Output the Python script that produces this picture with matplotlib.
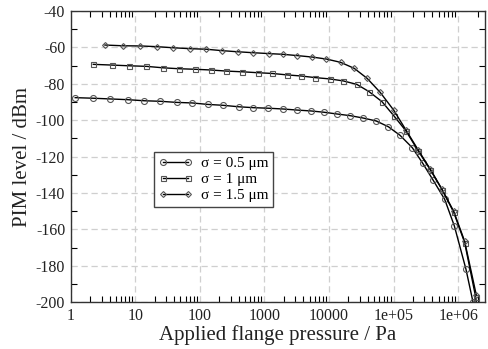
import numpy as np
import matplotlib
matplotlib.use("Agg")
import matplotlib.pyplot as plt
from matplotlib.ticker import FixedLocator, FixedFormatter, NullFormatter

plt.rcParams['font.family'] = ['Liberation Serif', 'DejaVu Serif']
plt.rcParams['axes.unicode_minus'] = False

# log10(pressure / Pa) and PIM level (dBm)
s05_logp = [0.07, 0.34, 0.61, 0.88, 1.14, 1.39, 1.64, 1.88, 2.12, 2.36, 2.60, 2.83, 3.06,
            3.28, 3.50, 3.72, 3.92, 4.13, 4.33, 4.53, 4.73, 4.92, 5.10, 5.29, 5.45, 5.61,
            5.79, 5.94, 6.12, 6.23]
s05_pim = [-87.6, -87.9, -88.3, -88.7, -89.3, -89.6, -90.2, -90.5, -91.3, -91.8, -92.6, -93.1, -93.4,
           -93.8, -94.4, -94.9, -95.6, -96.6, -97.5, -98.8, -100.4, -103.6, -108.3, -115.1, -123.6, -132.8,
           -143.4, -158.0, -181.8, -200.0]

s10_logp = [0.35, 0.64, 0.91, 1.17, 1.43, 1.67, 1.92, 2.17, 2.41, 2.66, 2.90, 3.12,
            3.35, 3.57, 3.79, 4.01, 4.22, 4.43, 4.62, 4.82, 5.00, 5.19, 5.38, 5.57,
            5.75, 5.93, 6.10, 6.27, 6.28]
s10_pim = [-69.3, -69.7, -70.1, -70.4, -71.2, -71.7, -72.0, -72.4, -73.0, -73.4, -73.9, -74.3,
           -75.1, -75.7, -76.6, -77.3, -78.4, -80.3, -84.3, -89.8, -97.4, -105.8, -116.8, -127.3,
           -138.1, -150.5, -167.2, -197.0, -200.0]

s15_logp = [0.53, 0.81, 1.08, 1.34, 1.59, 1.85, 2.10, 2.35, 2.59, 2.82, 3.07,
            3.29, 3.51, 3.74, 3.96, 4.18, 4.39, 4.59, 4.79, 5.00, 5.19, 5.38, 5.57,
            5.75, 5.93, 6.10, 6.28]
s15_pim = [-58.7, -59.1, -59.2, -59.6, -60.2, -60.7, -61.0, -61.8, -62.4, -62.9, -63.4,
           -63.8, -64.5, -65.3, -66.4, -68.2, -71.5, -77.0, -84.6, -94.4, -105.3, -116.3, -127.0,
           -138.0, -150.0, -166.5, -196.0]

series_labels = ['σ = 0.5 μm', 'σ = 1 μm', 'σ = 1.5 μm']
x_ticks = [1, 10, 100, 1000, 10000, 1e5, 1e6]
x_ticklabels = ['1', '10', '100', '1000', '10000', '1e+05', '1e+06']
y_ticks = [-40, -60, -80, -100, -120, -140, -160, -180, -200]
y_ticklabels = ['-40', '-60', '-80', '-100', '-120', '-140', '-160', '-180', '-200']

fig = plt.figure(figsize=(4.88, 3.49), dpi=100)
ax = fig.add_axes([70.7/488, 1 - 302.3/349, (485 - 70.7)/488, (302.3 - 11)/349])

edge = '#555555'
styles = [dict(marker='o', ms=4.3), dict(marker='s', ms=3.6), dict(marker='D', ms=3.0)]
data = [(s05_logp, s05_pim), (s10_logp, s10_pim), (s15_logp, s15_pim)]
for (lp, v), st, lab in zip(data, styles, series_labels):
    ax.plot(10 ** np.array(lp), v, color='black', lw=1.0, mfc='none', mec=edge,
            mew=0.8, label=lab, **st)

ax.set_xscale('log')
ax.set_xlim(1, 2.6e6)
ax.set_ylim(-200, -40)

ax.xaxis.set_major_locator(FixedLocator(x_ticks))
ax.xaxis.set_major_formatter(FixedFormatter(x_ticklabels))
ax.xaxis.set_minor_locator(FixedLocator([m * 10 ** d for d in range(7) for m in range(2, 10)]))
ax.xaxis.set_minor_formatter(NullFormatter())
ax.yaxis.set_major_locator(FixedLocator(y_ticks))
ax.yaxis.set_major_formatter(FixedFormatter(y_ticklabels))
ax.yaxis.set_minor_locator(FixedLocator(list(range(-190, -40, 20))))

ax.tick_params(which='major', length=0, labelsize=11.5, pad=4, colors='#222222')
ax.tick_params(which='minor', direction='in', length=4, width=0.8, top=True, right=True)
ax.tick_params(which='both', top=True, right=True)

ax.grid(True, which='major', color='#cfcfcf', linestyle=(0, (5, 3)), lw=0.9)
ax.set_axisbelow(True)
for s in ax.spines.values():
    s.set_linewidth(1.0)
    s.set_color('#333333')

ax.set_xlabel('Applied flange pressure / Pa', fontsize=15, labelpad=1, color='#222222')
ax.set_ylabel('PIM level / dBm', fontsize=15, labelpad=3, color='#222222')

leg = ax.legend(loc='upper left', bbox_to_anchor=(0.201, 0.517), borderaxespad=0,
                fontsize=11, numpoints=2, handlelength=2.2, handletextpad=0.6,
                frameon=True, fancybox=False, edgecolor='#444444', framealpha=1,
                borderpad=0.3, labelspacing=0.15)
leg.get_frame().set_linewidth(1.0)

fig.savefig('out.png', dpi=100)
